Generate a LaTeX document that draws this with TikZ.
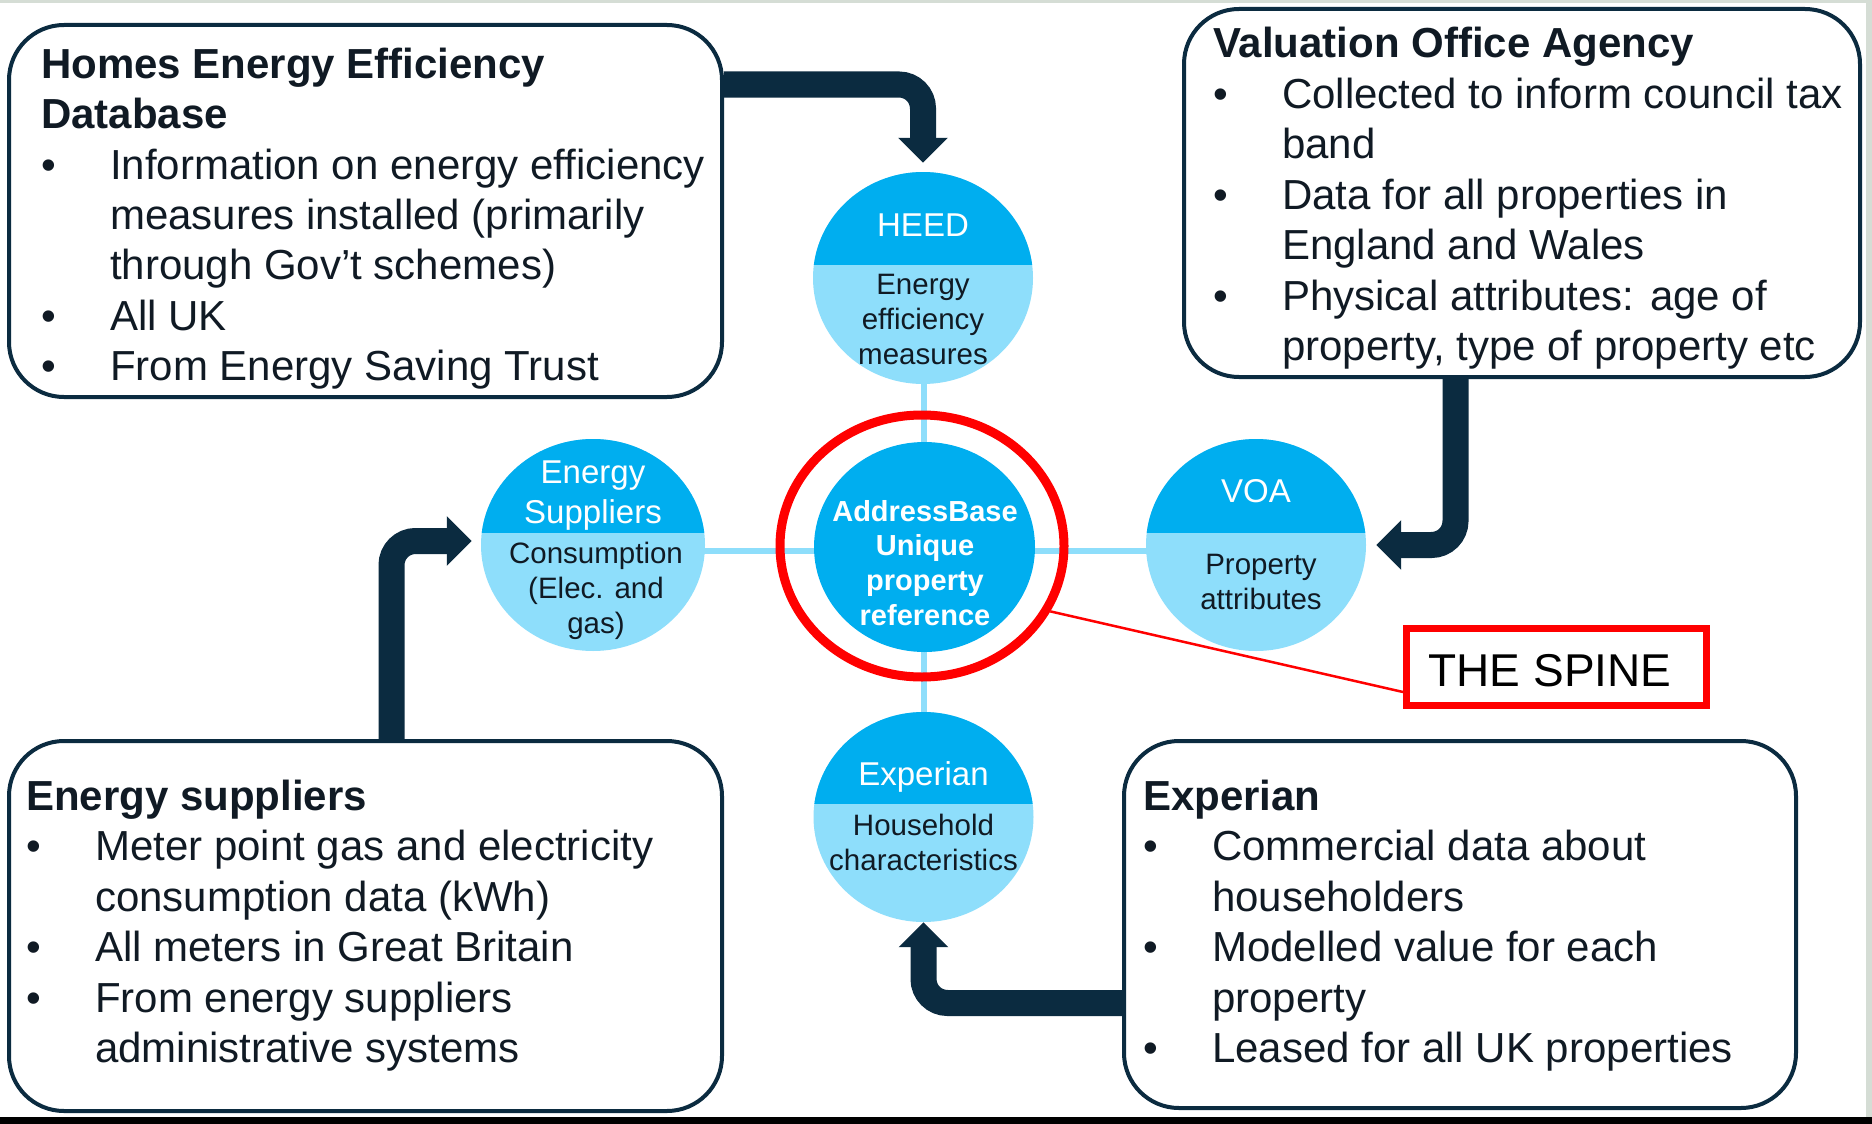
\documentclass[tikz,border=0pt]{standalone}
\usepackage{fontspec}
\setmainfont{Liberation Sans}
\usetikzlibrary{shapes.geometric,arrows.meta}
\definecolor{navy}{HTML}{0B2B40}
\definecolor{cyanA}{HTML}{00AEEF}
\definecolor{cyanL}{HTML}{8EDEFB}
\definecolor{txt}{HTML}{101A24}
\definecolor{framegray}{HTML}{D5DDD5}
\newcommand\lns[1]{\begin{tabular}[t]{@{}c@{}}#1\end{tabular}}
\newcommand\blist[1]{\begin{tabular}[t]{@{}p{69pt}@{}l@{}}#1\end{tabular}}
\newcommand\ttl[1]{\multicolumn{2}{@{}l@{}}{\bfseries #1}}
\newcommand\splitbub[6]{%
  \node[bub, minimum width={2*#4pt}, minimum height={2*#5pt}] (#1) at (#2,#3) {};
  \begin{scope}
    \clip (#2,#3) ellipse [x radius=#4, y radius=#5];
    \fill[cyanA] ({#2-#4-2},{#3-#5-2}) rectangle ({#2+#4+2},#6);
  \end{scope}}
\tikzset{
  infobox/.style={draw=navy, line width=4pt, rounded corners=55pt, inner sep=0pt},
  boxtxt/.style={anchor=base west, inner sep=0pt, text=txt, font=\fontsize{42}{50.5}\selectfont},
  toplab/.style={anchor=base, inner sep=0pt, text=white, font=\fontsize{33}{40}\selectfont},
  botlab/.style={anchor=base, inner sep=0pt, text=txt, font=\fontsize{29.5}{35}\selectfont},
  bub/.style={ellipse, fill=cyanL, inner sep=0pt},
  crossline/.style={draw=cyanL, line width=6pt},
  darr/.style={draw=navy, line width=26pt, rounded corners=24pt, -{Triangle[width=48pt,length=25pt]}},
}
\begin{document}
\begin{tikzpicture}[x=1pt, y=-1pt]
\useasboundingbox (0,0) rectangle (1872,1124);
\fill[white] (0,0) rectangle (1872,1124);
\fill[framegray] (0,0) rectangle (1872,3);
\fill[framegray] (1866,0) rectangle (1872,1117);
\fill[black] (0,1117) rectangle (1872,1124);

% cross lines (behind bubbles)
\coordinate (hc) at (923.5,278);
\coordinate (vc) at (923.5,817);
\draw[crossline] (hc) -- (vc);
\draw[crossline] (593,551) -- (1256,551);

% bubbles
\splitbub{heed}{923}{278}{110}{106}{265}
\splitbub{es}{593}{545}{112}{106}{533}
\splitbub{voa}{1256}{545}{110}{106}{533}
\splitbub{exp}{923.5}{817}{110}{105}{804}
\node[bub, fill=cyanA, minimum width=221pt, minimum height=210pt] (ab) at (924.5,547) {};

% bubble labels
\node[toplab] (heedt) at (923,236) {HEED};
\node[botlab] (heedb) at (923,294) {\lns{Energy\\efficiency\\measures}};
\node[toplab] (est) at (593,483) {\lns{Energy\\Suppliers}};
\node[botlab] (esb2) at (596,563) {\lns{Consumption\\(Elec. and\\gas)}};
\node[botlab, text=white, font=\fontsize{29}{34.7}\selectfont\bfseries] (abt) at (925,521) {\lns{AddressBase\\Unique\\property\\reference}};
\node[toplab] (voat) at (1256,502) {VOA};
\node[botlab] (voab2) at (1261,574) {\lns{Property\\attributes}};
\node[toplab] (expt) at (923.5,785) {Experian};
\node[botlab] (expb2) at (923.5,835) {\lns{Household\\characteristics}};

% red ring and spine label
\node[draw=red, line width=9pt, ellipse, minimum width=284pt, minimum height=262pt, inner sep=0pt] (ring) at (922,546) {};
\node[draw=red, line width=7pt, minimum width=300pt, minimum height=77pt, inner sep=0pt] (spine) at (1556.5,667) {};
\node[anchor=base, inner sep=0pt, text=black, font=\fontsize{46}{50}\selectfont] (spinet) at (1550,686) {THE SPINE};
\draw[red, line width=2.5pt] (ring.-27) -- ([yshift=-25pt]spine.west);

% info boxes
\node[infobox, minimum width=713pt, minimum height=372pt] (hedb) at (365.5,211) {};
\node[infobox, minimum width=676pt, minimum height=368pt] (voab) at (1522,193) {};
\node[infobox, minimum width=713pt, minimum height=370pt] (esb) at (365.5,926) {};
\node[infobox, minimum width=672pt, minimum height=367pt] (expb) at (1460,924.5) {};

% arrows
\coordinate (k1) at (0,84.5);
\coordinate (k2) at (1455.5,0);
\coordinate (k3) at (391.5,0);
\coordinate (k4) at (0,1003);
\coordinate (tip3) at ([xshift=-9pt,yshift=4pt]es.west);
\draw[darr] (hedb.east |- k1) -- (heed.north |- k1) -- ([yshift=9pt]heed.north);
\draw[darr] (k2 |- voab.south) -- (k2 |- voa.east) -- ([xshift=10pt]voa.east);
\draw[darr] (k3 |- esb.north) -- (k3 |- tip3) -- (tip3);
\draw[darr] (expb.west |- k4) -- (exp.south |- k4) -- (exp.south);

% box texts
\node[boxtxt] (hedbt) at (41,78) {\blist{%
\ttl{Homes Energy Efficiency}\\
\ttl{Database}\\
\textbullet & Information on energy efficiency\\
 & measures installed (primarily\\
 & through Gov’t schemes)\\
\textbullet & All UK\\
\textbullet & From Energy Saving Trust}};
\node[boxtxt] (voabt) at (1213,58) {\blist{%
\ttl{Valuation Office Agency}\\
\textbullet & Collected to inform council tax\\
 & band\\
\textbullet & Data for all properties in\\
 & England and Wales\\
\textbullet & Physical attributes: age of\\
 & property, type of property etc}};
\node[boxtxt] (esbt) at (26,810) {\blist{%
\ttl{Energy suppliers}\\
\textbullet & Meter point gas and electricity\\
 & consumption data (kWh)\\
\textbullet & All meters in Great Britain\\
\textbullet & From energy suppliers\\
 & administrative systems}};
\node[boxtxt] (expbt) at (1143,810) {\blist{%
\ttl{Experian}\\
\textbullet & Commercial data about\\
 & householders\\
\textbullet & Modelled value for each\\
 & property\\
\textbullet & Leased for all UK properties}};
\end{tikzpicture}
\end{document}
